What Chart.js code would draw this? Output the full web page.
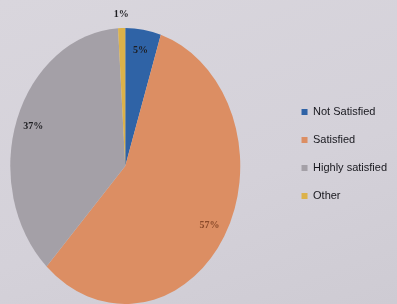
<!DOCTYPE html>
<html>
<head>
<meta charset="utf-8">
<script src="https://cdn.jsdelivr.net/npm/chart.js@4/dist/chart.umd.min.js"></script>
<style>
html,body{margin:0;padding:0;background:#d5d2da;}
#wrap{width:397px;height:304px;position:relative;background:linear-gradient(160deg,#d9d6dd 0%,#d4d1d9 60%,#cecbd3 100%);}
canvas{display:block;}
</style>
</head>
<body>
<div id="wrap"><canvas id="c" width="397" height="304"></canvas></div>
<script>
const categories = ["Not Satisfied", "Satisfied", "Highly satisfied", "Other"];
const values = [5, 57, 37, 1];
const valueLabels = ["5%", "57%", "37%", "1%"];
const colors = ["#2f63a6", "#dc8e63", "#a4a0a7", "#dcb24a"];

const ellipsePlugin = {
  id: 'ellipse',
  beforeDatasetsDraw(chart, args, opts) {
    const arc = chart.getDatasetMeta(0).data[0];
    const ctx = chart.ctx;
    ctx.save();
    ctx.translate(arc.x + opts.dx, arc.y + opts.dy);
    ctx.scale(1, opts.sy);
    ctx.translate(-arc.x, -arc.y);
  },
  afterDatasetsDraw(chart, args, opts) {
    const ctx = chart.ctx;
    const m = ctx.getTransform();
    ctx.restore();
    const meta = chart.getDatasetMeta(0);
    ctx.save();
    ctx.font = 'bold 10px "Liberation Serif", serif';
    ctx.textAlign = 'center';
    ctx.textBaseline = 'middle';
    meta.data.forEach((a, i) => {
      const mid = (a.startAngle + a.endAngle) / 2;
      const frac = values[i] < 3 ? 1.1 : 0.85;
      const r = a.outerRadius * frac;
      const p = m.transformPoint(new DOMPoint(a.x + Math.cos(mid) * r, a.y + Math.sin(mid) * r));
      ctx.fillStyle = i === 1 ? '#8a4a2a' : '#1e1e22';
      ctx.fillText(valueLabels[i], p.x, p.y);
    });
    ctx.restore();
  }
};

new Chart(document.getElementById('c'), {
  type: 'pie',
  data: {
    labels: categories,
    datasets: [{
      data: values,
      backgroundColor: colors,
      borderWidth: 0,
      radius: 115
    }]
  },
  options: {
    responsive: false,
    animation: false,
    layout: { padding: { left: 0, right: 0, top: 4, bottom: 0 } },
    plugins: {
      ellipse: { dx: -17, dy: 12, sy: 1.2 },
      tooltip: { enabled: false },
      legend: {
        position: 'right',
        labels: {
          boxWidth: 6,
          boxHeight: 6,
          padding: 17,
          color: '#18181e',
          font: { family: '"Liberation Sans", Arial, sans-serif', size: 11 }
        }
      }
    }
  },
  plugins: [ellipsePlugin]
});
</script>
</body>
</html>
